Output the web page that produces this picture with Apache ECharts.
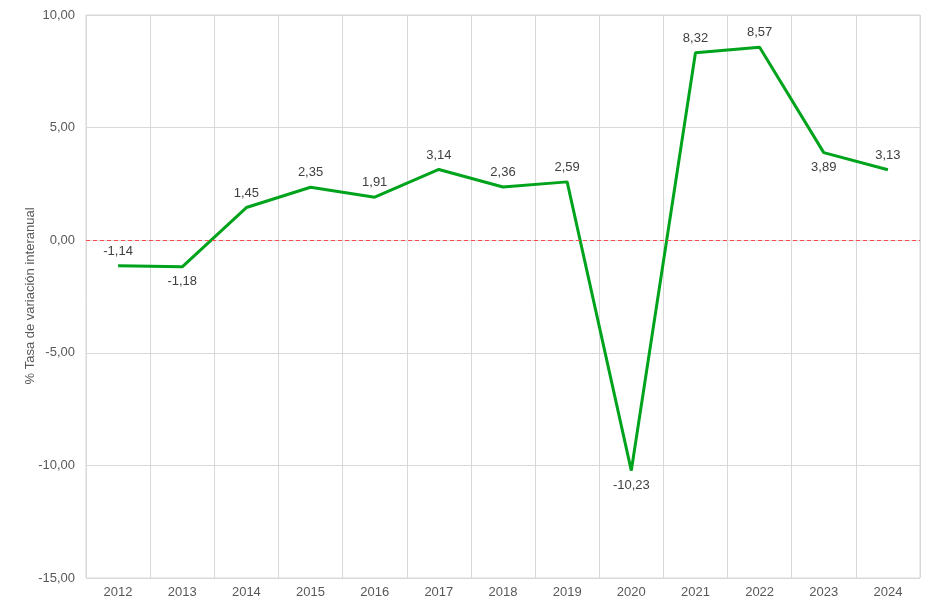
<!DOCTYPE html>
<html>
<head>
<meta charset="utf-8">
<script src="https://cdn.jsdelivr.net/npm/echarts@6/dist/echarts.min.js"></script>
<style>
html, body { margin: 0; padding: 0; background: #fff; }
#chart { width: 928px; height: 602px; }
</style>
</head>
<body>
<div id="chart"></div>
<script>
var years = ['2012', '2013', '2014', '2015', '2016', '2017', '2018', '2019', '2020', '2021', '2022', '2023', '2024'];
var tasa = [-1.14, -1.18, 1.45, 2.35, 1.91, 3.14, 2.36, 2.59, -10.23, 8.32, 8.57, 3.89, 3.13];
var yMin = -15, yMax = 10, yStep = 5;
var yTitle = '% Tasa de variación interanual';

// puntos con la etiqueta debajo
var labelBelow = [1, 8, 11];

function fmt(v) {
	return v.toFixed(2).replace('.', ',');
}

var myChart = echarts.init(document.getElementById('chart'));

var option = {
	animation: false,
	grid: {
		left: 86,
		right: 8,
		top: 15,
		bottom: 24,
		show: true,
		borderColor: '#d9d9d9',
		borderWidth: 1
	},
	graphic: [{
		type: 'text',
		x: 30,
		y: 296,
		rotation: Math.PI / 2,
		style: {
			text: yTitle,
			fill: '#595959',
			fontSize: 13,
			fontFamily: 'Liberation Sans, Arial',
			align: 'center',
			verticalAlign: 'middle'
		}
	}],
	xAxis: {
		type: 'category',
		data: years,
		boundaryGap: true,
		axisLine: { lineStyle: { color: '#d9d9d9' } },
		axisTick: { show: false },
		axisLabel: { color: '#595959', fontSize: 13, fontFamily: 'Liberation Sans, Arial', margin: 8 },
		splitLine: { show: true, lineStyle: { color: '#d9d9d9' } }
	},
	yAxis: {
		type: 'value',
		min: yMin,
		max: yMax,
		interval: yStep,
		axisLine: { show: false },
		axisTick: { show: false },
		axisLabel: {
			color: '#595959',
			fontSize: 13,
			fontFamily: 'Liberation Sans, Arial',
			margin: 11,
			formatter: function (v) { return fmt(v); }
		},
		splitLine: { lineStyle: { color: '#d9d9d9' } }
	},
	series: [{
		type: 'line',
		data: tasa.map(function (v, i) {
			return {
				value: v,
				label: { position: labelBelow.indexOf(i) >= 0 ? 'bottom' : 'top' }
			};
		}),
		symbol: 'circle',
		symbolSize: 0,
		showAllSymbol: true,
		lineStyle: { color: '#00a31c', width: 3 },
		itemStyle: { color: '#00a31c' },
		label: {
			show: true,
			color: '#404040',
			fontSize: 13,
			fontFamily: 'Liberation Sans, Arial',
			distance: 8,
			formatter: function (p) { return fmt(p.value); }
		},
		markLine: {
			silent: true,
			symbol: 'none',
			label: { show: false },
			lineStyle: { color: '#ff4d4d', type: [4, 3], width: 1 },
			data: [{ yAxis: 0 }]
		},
		z: 3
	}]
};

myChart.setOption(option);
</script>
</body>
</html>
